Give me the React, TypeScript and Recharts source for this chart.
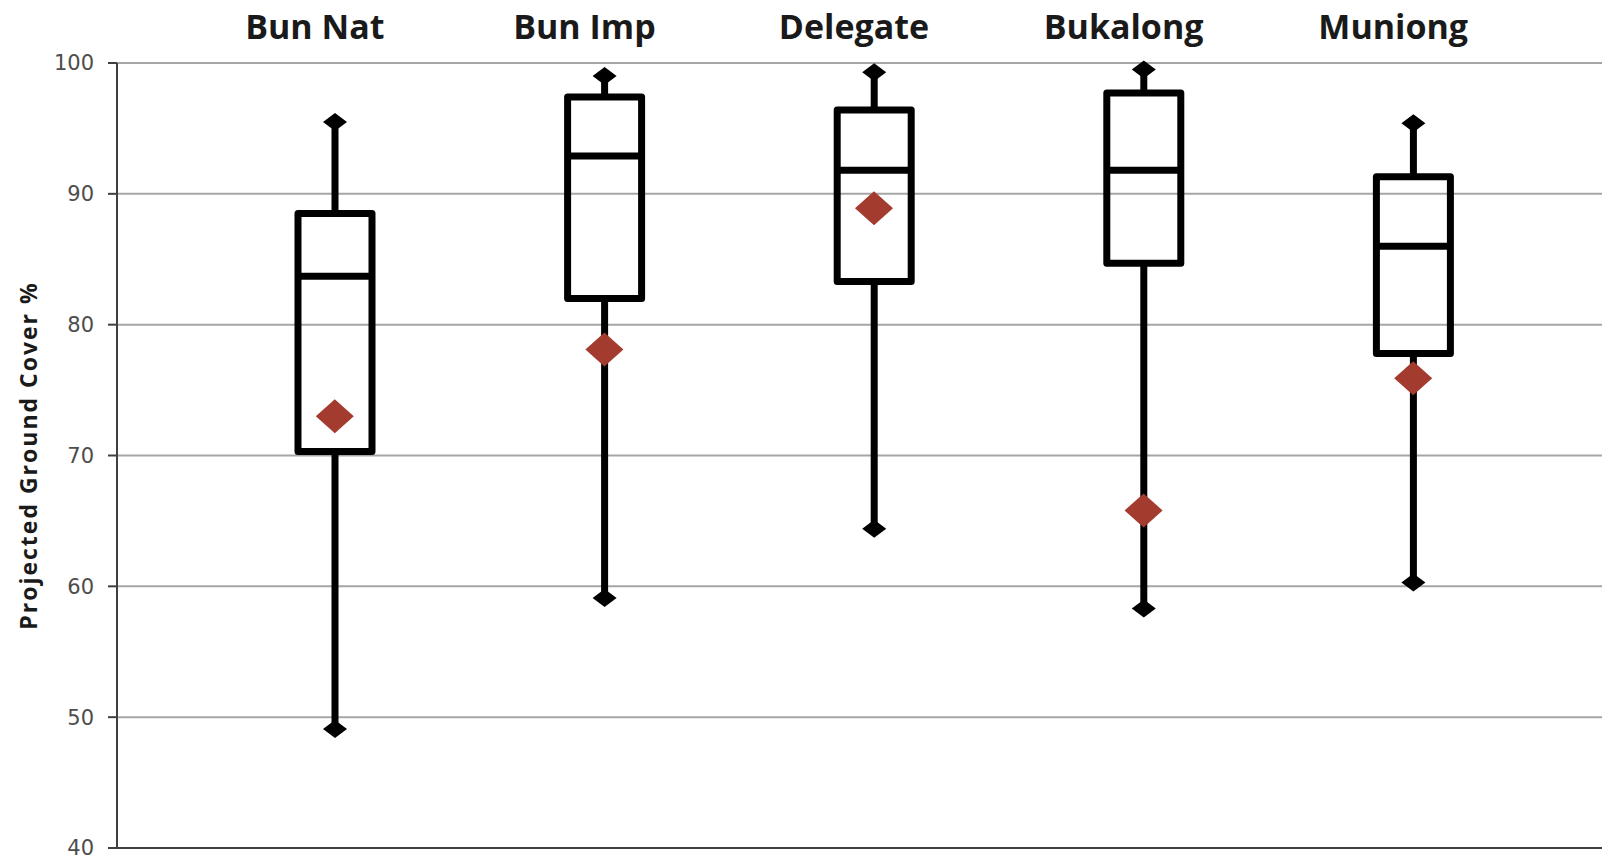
import React from "react";
import {
  ComposedChart,
  Bar,
  Scatter,
  XAxis,
  YAxis,
  CartesianGrid,
  ReferenceLine,
} from "recharts";

// projected ground cover (%) per site
const sites = ["Bun Nat", "Bun Imp", "Delegate", "Bukalong", "Muniong"];
const minValues = [49.1, 59.1, 64.4, 58.3, 60.3];
const q1Values = [70.3, 82.0, 83.3, 84.7, 77.8];
const medianValues = [83.7, 92.9, 91.8, 91.8, 86.0];
const q3Values = [88.5, 97.4, 96.4, 97.7, 91.3];
const maxValues = [95.5, 99.0, 99.3, 99.5, 95.4];
const meanValues = [73.0, 78.1, 88.9, 65.8, 75.9];
const yTicks = [40, 50, 60, 70, 80, 90, 100];

const rows = sites.map((name, i) => ({
  name,
  lower: [minValues[i], q1Values[i]],
  box: [q1Values[i], q3Values[i]],
  upper: [q3Values[i], maxValues[i]],
  median: medianValues[i],
  mean: meanValues[i],
}));

const BOX_W = 74;
const LINE_W = 7;
const axisPadding = { left: 83, right: 54 };

const endDiamond = (cx: number, cy: number) =>
  `M${cx},${cy - 9} L${cx + 12},${cy} L${cx},${cy + 9} L${cx - 12},${cy} Z`;

const LowerWhisker = (props: any) => {
  const { x, y, width, height } = props;
  const cx = x + width / 2;
  return (
    <g>
      <line x1={cx} y1={y} x2={cx} y2={y + height} stroke="#000" strokeWidth={LINE_W} />
      <path d={endDiamond(cx, y + height)} fill="#000" />
    </g>
  );
};

const UpperWhisker = (props: any) => {
  const { x, y, width, height } = props;
  const cx = x + width / 2;
  return (
    <g>
      <line x1={cx} y1={y} x2={cx} y2={y + height} stroke="#000" strokeWidth={LINE_W} />
      <path d={endDiamond(cx, y)} fill="#000" />
    </g>
  );
};

const BoxShape = (props: any) => {
  const { x, y, width, height } = props;
  return (
    <rect
      x={x}
      y={y}
      width={width}
      height={height}
      fill="none"
      stroke="#000"
      strokeWidth={LINE_W}
      strokeLinejoin="round"
    />
  );
};

const MedianShape = (props: any) => {
  const { cx, cy } = props;
  return (
    <line
      x1={cx - BOX_W / 2}
      y1={cy}
      x2={cx + BOX_W / 2}
      y2={cy}
      stroke="#000"
      strokeWidth={LINE_W}
    />
  );
};

const MeanShape = (props: any) => {
  const { cx, cy } = props;
  return (
    <path
      d={`M${cx},${cy - 17} L${cx + 19},${cy} L${cx},${cy + 17} L${cx - 19},${cy} Z`}
      fill="#a33b2e"
    />
  );
};

const TitleTick = (props: any) => {
  const { x, y, payload } = props;
  return (
    <text
      x={x - 20}
      y={y - 16}
      textAnchor="middle"
      fontFamily="'Open Sans', sans-serif"
      fontWeight={700}
      fontSize={34}
      fill="#1a1a1a"
    >
      {payload.value}
    </text>
  );
};

const YLabel = (props: any) => {
  const { viewBox } = props;
  const cx = viewBox.x + 28;
  const cy = viewBox.y + viewBox.height / 2;
  return (
    <text
      x={cx}
      y={cy}
      transform={`rotate(-90, ${cx}, ${cy})`}
      textAnchor="middle"
      dominantBaseline="central"
      fontFamily="'Open Sans', sans-serif"
      fontWeight={700}
      fontSize={23}
      letterSpacing={2}
      fill="#1a1a1a"
    >
      Projected Ground Cover %
    </text>
  );
};

export default function App() {
  return (
    <div
      style={{
        position: "absolute",
        left: 0,
        top: 0,
        width: 1602,
        height: 859,
        background: "#fff",
      }}
    >
      <ComposedChart
        width={1602}
        height={859}
        data={rows}
        margin={{ top: 0, right: 0, bottom: 11, left: 0 }}
      >
        <CartesianGrid
          xAxisId="top"
          vertical={false}
          stroke="#a6a6a6"
          strokeWidth={2}
        />
        <XAxis
          xAxisId="top"
          orientation="top"
          dataKey="name"
          height={63}
          padding={axisPadding}
          interval={0}
          tickLine={false}
          axisLine={false}
          tick={<TitleTick />}
        />
        <XAxis xAxisId="lo" dataKey="name" hide padding={axisPadding} />
        <XAxis xAxisId="hi" dataKey="name" hide padding={axisPadding} />
        <YAxis
          width={117}
          domain={[40, 100]}
          ticks={yTicks}
          interval={0}
          tick={{ fontFamily: "'DejaVu Sans', sans-serif", fontSize: 21, fill: "#4d4d4d" }}
          tickSize={9}
          tickMargin={14}
          tickLine={{ stroke: "#404040", strokeWidth: 2 }}
          axisLine={{ stroke: "#404040", strokeWidth: 2 }}
          label={{ content: YLabel }}
        />
        <ReferenceLine xAxisId="top" y={40} stroke="#404040" strokeWidth={2} />
        <Bar
          xAxisId="lo"
          dataKey="lower"
          barSize={BOX_W}
          shape={LowerWhisker}
          isAnimationActive={false}
        />
        <Bar
          xAxisId="hi"
          dataKey="upper"
          barSize={BOX_W}
          shape={UpperWhisker}
          isAnimationActive={false}
        />
        <Bar
          xAxisId="top"
          dataKey="box"
          barSize={BOX_W}
          shape={BoxShape}
          isAnimationActive={false}
        />
        <Scatter
          xAxisId="top"
          dataKey="median"
          shape={MedianShape}
          isAnimationActive={false}
        />
        <Scatter
          xAxisId="top"
          dataKey="mean"
          shape={MeanShape}
          isAnimationActive={false}
        />
      </ComposedChart>
    </div>
  );
}
